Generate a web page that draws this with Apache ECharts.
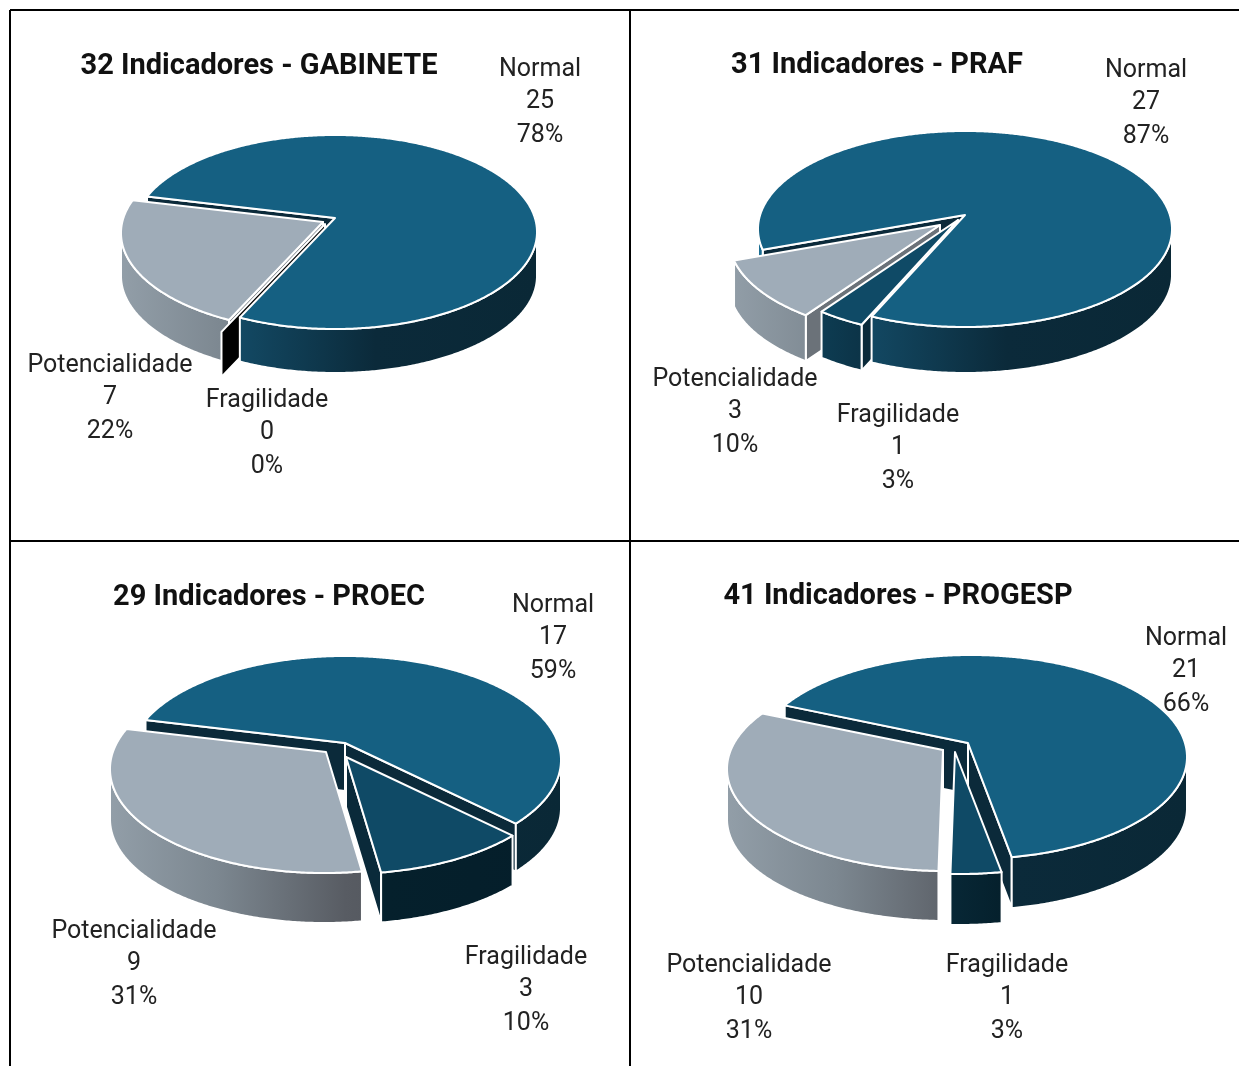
<!DOCTYPE html>
<html>
<head>
<meta charset="utf-8">
<style>html,body{margin:0;padding:0;background:#fff}#chart{width:1239px;height:1066px}</style>
<script src="https://cdn.jsdelivr.net/npm/echarts@6/dist/echarts.min.js"></script>
</head>
<body>
<div id="chart"></div>
<script>
// ---- data ----
const categories = ['Normal', 'Fragilidade', 'Potencialidade'];
const panelTitles = ['32 Indicadores - GABINETE', '31 Indicadores - PRAF', '29 Indicadores - PROEC', '41 Indicadores - PROGESP'];
const gabineteValues = [25, 0, 7];
const prafValues = [27, 1, 3];
const proecValues = [17, 3, 9];
const progespValues = [21, 1, 10];
const panelValues = [gabineteValues, prafValues, proecValues, progespValues];

// ---- layout (geometry of the exploded 3D pies, not data) ----
// a: apex, c: ellipse centre, r: ellipse radii, d: depth, l: label anchor, wz/fz: paint order
const layouts = [
  { title: [254, 62], start: 193.4, slices: [
    { a: [335, 218], c: [335, 232], r: [202, 97], d: 44, l: [540, 67], wz: 1, fz: 20 },
    { a: [325, 224], c: [328, 247], r: [207, 99], d: 45, l: [267, 398], wz: 15, fz: 15, wall: '#000000' },
    { a: [323, 222], c: [328, 233], r: [207, 99], d: 43, l: [110, 363], wz: 2, fz: 10 }
  ]},
  { title: [872, 61], start: 160, slices: [
    { a: [965, 215], c: [965, 229], r: [207, 98], d: 46, l: [1146, 68], wz: 1, fz: 10 },
    { a: [958, 220], c: [958, 238], r: [207, 98], d: 46, l: [898, 413], wz: 3, fz: 11 },
    { a: [940, 225], c: [936, 239], r: [207, 98], d: 46, l: [735, 377], wz: 2, fz: 12 }
  ]},
  { title: [264, 593], start: 193.4, slices: [
    { a: [345, 743], c: [345, 760], r: [216, 104], d: 48, l: [553, 603], wz: 1, fz: 10 },
    { a: [346, 757], c: [345, 770], r: [216, 104], d: 50, l: [526, 955], wz: 3, fz: 11 },
    { a: [326, 752], c: [324, 769], r: [214, 104], d: 50, l: [134, 929], wz: 2, fz: 12 }
  ]},
  { title: [893, 592], start: 203.5, slices: [
    { a: [968, 743], c: [971, 757], r: [216, 102], d: 51, l: [1186, 636], wz: 1, fz: 10 },
    { a: [955, 752], c: [959, 772], r: [219, 102], d: 51, l: [1007, 963], wz: 3, fz: 11 },
    { a: [943, 750], c: [946, 769], r: [219, 102], d: 50, l: [749, 963], wz: 2, fz: 12 }
  ]}
];
const topColors = ['#156082', '#0F4A66', '#9FACB8'];
const wallColors = ['#0B2A3A', '#0A2A3A', '#6B7279'];
const sideStops = [
  [[0, '#1B6E93'], [0.25, '#134A65'], [0.6, '#0B2A3A'], [1, '#0A2836']],
  [[0, '#104A66'], [0.25, '#0C3549'], [0.6, '#05202C'], [1, '#051E2A']],
  [[0, '#929EA8'], [0.25, '#7C8790'], [0.55, '#585C63'], [1, '#45484D']]
];
const LINE = '#FFFFFF';
const FONT = 'Roboto, sans-serif';
const TEXT = '#222222';

function rimPoint(s, deg) {
  const t = deg * Math.PI / 180;
  const dx = s.r[0] * Math.cos(t), dy = s.r[1] * Math.sin(t);
  const ox = (s.a[0] - s.c[0]) / s.r[0], oy = (s.a[1] - s.c[1]) / s.r[1];
  const ux = dx / s.r[0], uy = dy / s.r[1];
  const A = ux * ux + uy * uy, B = 2 * (ox * ux + oy * uy), C = ox * ox + oy * oy - 1;
  const k = (-B + Math.sqrt(B * B - 4 * A * C)) / (2 * A);
  return [s.a[0] + dx * k, s.a[1] + dy * k];
}
function down(p, d) { return [p[0], p[1] + d]; }

function makeRenderItem(panelIndex) {
  const layout = layouts[panelIndex];
  const values = panelValues[panelIndex];
  const total = values.reduce((x, y) => x + y, 0);
  return function (params, api) {
    const i = params.dataIndex;
    const value = api.value(0);
    const s = layout.slices[i];
    let before = 0;
    for (let k = 0; k < i; k++) before += values[k];
    const a0 = layout.start + before / total * 360;
    const a1 = a0 + value / total * 360;
    const children = [];
    const wallFill = s.wall || wallColors[i];
    const stroke = { stroke: LINE, lineWidth: 2, lineJoin: 'round' };

    const addCut = (deg, isStart) => {
      const R = rimPoint(s, deg);
      const ex = R[0] - s.a[0];
      if (isStart ? ex < 0 : ex > 0) {
        children.push({ type: 'polygon', z2: s.wz,
          shape: { points: [s.a, R, down(R, s.d), down(s.a, s.d)] },
          style: Object.assign({ fill: wallFill }, stroke) });
      }
    };
    addCut(a0, true);
    if (value > 0) addCut(a1, false);

    if (value > 0) {
      const rim = [];
      const n = Math.max(2, Math.ceil((a1 - a0) * 2));
      for (let k = 0; k <= n; k++) rim.push(rimPoint(s, a0 + (a1 - a0) * k / n));
      // outer wall: the parts of the rim in front of the ellipse centre
      const grad = { type: 'linear', global: true,
        x: s.c[0] - s.r[0], y: 0, x2: s.c[0] + s.r[0], y2: 0,
        colorStops: sideStops[i].map(p => ({ offset: p[0], color: p[1] })) };
      let seg = [];
      const flush = () => {
        if (seg.length > 1) {
          children.push({ type: 'polygon', z2: s.fz,
            shape: { points: seg.concat(seg.slice().reverse().map(p => down(p, s.d))) },
            style: Object.assign({ fill: grad }, stroke) });
        }
        seg = [];
      };
      rim.forEach(p => { if (p[1] >= s.c[1]) seg.push(p); else flush(); });
      flush();
      children.push({ type: 'polygon', z2: s.fz + 1,
        shape: { points: [s.a].concat(rim) },
        style: Object.assign({ fill: topColors[i] }, stroke) });
    }

    const lines = [categories[i], String(value), Math.round(value / total * 100) + '%'];
    const offs = [3, 35, 69];
    lines.forEach((t, k) => children.push({ type: 'text', z2: 50, x: s.l[0], y: s.l[1] + offs[k],
      style: { text: t, fontFamily: FONT, fontSize: 25, fill: TEXT, align: 'center', verticalAlign: 'middle' } }));
    return { type: 'group', children };
  };
}

const borders = [
  [10, 10, 1239, 10], [10, 541, 1239, 541], [10, 10, 10, 1066], [630, 10, 630, 1066]
].map(b => ({ type: 'line', silent: true, z: 100,
  shape: { x1: b[0], y1: b[1], x2: b[2], y2: b[3] },
  style: { stroke: '#000', lineWidth: 2 } }));

const chart = echarts.init(document.getElementById('chart'), null, { renderer: 'canvas' });
chart.setOption({
  backgroundColor: '#fff',
  animation: false,
  title: panelTitles.map((t, i) => ({
    text: t, left: layouts[i].title[0], top: layouts[i].title[1], textAlign: 'center', textVerticalAlign: 'middle',
    textStyle: { fontFamily: FONT, fontWeight: 'bold', fontSize: 29, color: '#111111' }
  })),
  graphic: borders,
  series: panelValues.map((vals, i) => ({
    type: 'custom', coordinateSystem: 'none', silent: true,
    data: vals.map((v, k) => ({ name: categories[k], value: [v] })),
    renderItem: makeRenderItem(i)
  }))
});
</script>
</body>
</html>
